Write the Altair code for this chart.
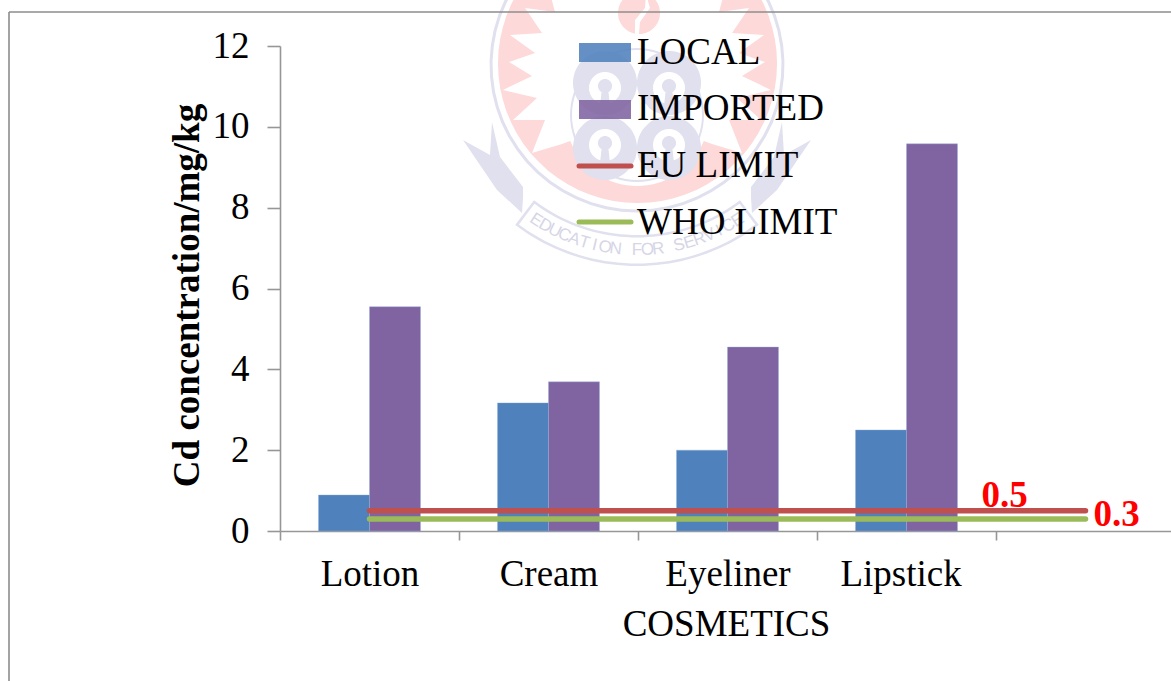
import math
import altair as alt
import pandas as pd

# Cadmium concentrations by cosmetic type
categories = ["Lotion", "Cream", "Eyeliner", "Lipstick", " "]
local_values = [0.89, 3.17, 2.0, 2.5]
imported_values = [5.55, 3.69, 4.55, 9.58]
eu_limit = [0.5, 0.5, 0.5, 0.5, 0.5]
who_limit = [0.3, 0.3, 0.3, 0.3, 0.3]
legend_labels = ["LOCAL", "IMPORTED", "EU LIMIT", "WHO LIMIT"]
motto = "EDUCATION FOR SERVICE"

BLUE, PURPLE, RED, GREEN = "#4F81BD", "#8064A2", "#C0504D", "#9BBB59"
SERIF = "Liberation Serif"
LEFT, TOP = 280, 46
GREY = "#969696"
PINK, LAV = "#FDD9D9", "#E0E0EE"
CX, CY = 637, 65

bars = pd.DataFrame(
    [{"cat": c, "series": "LOCAL", "v": v} for c, v in zip(categories, local_values)]
    + [{"cat": c, "series": "IMPORTED", "v": v} for c, v in zip(categories, imported_values)]
)
limits = pd.DataFrame({"cat": categories, "eu": eu_limit, "who": who_limit})

x_enc = alt.X(
    "cat:N",
    scale=alt.Scale(domain=categories, range=[0, 895], paddingInner=0, paddingOuter=0),
    sort=categories,
    axis=alt.Axis(
        title="COSMETICS",
        tickBand="extent",
        labelAngle=0,
        labelFont=SERIF,
        labelFontSize=37,
        labelColor="#000000",
        labelPadding=34,
        labelBaseline="middle",
        labelOffset={"expr": "datum.value == 'Lipstick' ? -6 : 0"},
        titleFont=SERIF,
        titleFontSize=37,
        titleFontWeight="normal",
        titleColor="#000000",
        titleX=446,
        titleY=93,
        titleBaseline="middle",
        tickSize=9,
        tickColor=GREY,
        tickWidth=1.6,
        domainColor=GREY,
        domainWidth=1.6,
        grid=False,
    ),
)
y_axis = alt.Axis(
    title="Cd concentration/mg/kg",
    values=[0, 2, 4, 6, 8, 10, 12],
    labelFont=SERIF,
    labelFontSize=37,
    labelColor="#000000",
    labelPadding=18,
    titleFont=SERIF,
    titleFontSize=37,
    titleFontWeight="bold",
    titleColor="#000000",
    titleX=-93,
    titleY=249,
    titleBaseline="middle",
    tickSize=13,
    tickColor=GREY,
    tickWidth=1.6,
    domainColor=GREY,
    domainWidth=1.6,
    grid=False,
)
y_scale = alt.Scale(domain=[0, 12], nice=False)


def y_enc(field):
    return alt.Y(field, scale=y_scale, axis=y_axis)


# Crest helpers: outlines are polylines in page pixels, shifted to the plot origin
def to_path(points):
    return "M" + "L".join(f"{x - LEFT:.1f},{y - TOP:.1f}" for x, y in points) + "Z"


def mirror(points):
    return [(2 * CX - x, y) for x, y in points]


def circle_pts(cx, cy, r, n=72):
    return [(cx + r * math.cos(2 * math.pi * i / n), cy + r * math.sin(2 * math.pi * i / n)) for i in range(n)]


def circle(cx, cy, r):
    return to_path(circle_pts(cx, cy, r))


def ring(cx, cy, r0, r1):
    # Outer and inner outlines wound in opposite directions leave the middle empty
    return to_path(circle_pts(cx, cy, r1)) + to_path(circle_pts(cx, cy, r0)[::-1])


def arc_pts(r, a0, a1, n=40):
    pts = []
    for i in range(n + 1):
        a = math.radians(a0 + (a1 - a0) * i / n)
        pts.append((CX + r * math.sin(a), CY + r * math.cos(a)))
    return pts


def band(r0, r1, a0, a1):
    return to_path(arc_pts(r1, a0, a1) + arc_pts(r0, a1, a0))


def crest(path, fill):
    return alt.Chart(pd.DataFrame({"k": [0]})).mark_point(
        shape=path, size=4, filled=True, opacity=1, fill=fill
    ).encode(x=alt.value(0), y=alt.value(0))


# White sunburst inside the pink disc: teeth down the left side, then round the emblem
teeth = [
    (548, -14), (555, 12), (525, 8), (542, 33), (510, 35), (535, 53), (509, 62),
    (532, 76), (503, 90), (537, 98), (513, 120), (545, 120), (532, 153), (562, 144),
]
emblem_arc = [
    (CX + 72 * math.sin(math.radians(a)), 114 + 72 * math.cos(math.radians(a)))
    for a in range(-68, 69, 4)
]
sunburst = teeth + emblem_arc + mirror(teeth)[::-1]

lobes = [(605, 83, 5), (669, 83, 5), (605, 148, -3), (669, 148, -3)]
lobe_path = "".join(circle(x, y, 32) for x, y, _ in lobes)
hole_path = "".join(circle(x, y + d, 16) for x, y, d in lobes)
key_path = "".join(
    circle(x, y + d - 2, 7) + to_path([(x - 3, y + d), (x + 3, y + d), (x + 5, y + d + 18), (x - 5, y + d + 18)])
    for x, y, d in lobes
)
wing = [(463, 140), (490, 155), (492, 122), (500, 157), (523, 187), (523, 197), (522, 213), (497, 190)]
wing_path = to_path(wing) + to_path(mirror(wing))
motto_box = (
    band(170, 172.5, -37, 37)
    + band(198.5, 201, -37, 37)
    + band(170, 201, 36.5, 37.3)
    + band(170, 201, -37.3, -36.5)
)

crest_layers = [
    crest(circle(637.5, 63.5, 139.5), PINK),
    crest(to_path(sunburst), "#FFFFFF"),
    crest(circle(639, 13, 21), PINK),
    crest(to_path([(646, -6), (650, 8), (640, 22), (639, 34), (635, 34), (635, 20), (645, 8)]), "#FFFFFF"),
    crest(band(144.5, 147.5, -122, 122), LAV),
    crest(ring(637, 115, 65, 67), LAV),
    crest(lobe_path, LAV),
    crest(circle(637, 115, 14), "#FFFFFF"),
    crest(hole_path, "#FFFFFF"),
    crest(key_path, LAV),
    crest(wing_path, LAV),
    crest(motto_box, LAV),
]

# Motto letters set along the lower arc of the crest
motto_layers = []
for i, ch in enumerate(motto):
    if ch == " ":
        continue
    a = -33 + 66 * i / (len(motto) - 1)
    rad = math.radians(a)
    motto_layers.append(
        alt.Chart(pd.DataFrame({"t": [ch]})).mark_text(
            font="Liberation Sans",
            fontSize=17,
            color="#D6D6E6",
            align="center",
            baseline="middle",
            angle=(-a) % 360,
        ).encode(
            x=alt.value(CX + 185 * math.sin(rad) - LEFT),
            y=alt.value(CY + 185 * math.cos(rad) - TOP),
            text="t:N",
        )
    )

# Outer frame on the left and top
one = pd.DataFrame({"k": [0]})
frame = [
    alt.Chart(one).mark_rule(color="#8C8C8C", strokeWidth=1.6).encode(
        x=alt.value(9 - LEFT), x2=alt.value(1171 - LEFT), y=alt.value(12 - TOP)
    ),
    alt.Chart(one).mark_rule(color="#8C8C8C", strokeWidth=1.6).encode(
        x=alt.value(9 - LEFT), y=alt.value(12 - TOP), y2=alt.value(681 - TOP)
    ),
]

bar_layer = alt.Chart(bars).mark_bar(stroke="#8FB0D8", strokeWidth=0.4).encode(
    x=x_enc,
    xOffset=alt.XOffset(
        "series:N",
        sort=["LOCAL", "IMPORTED"],
        scale=alt.Scale(paddingInner=0, paddingOuter=0.755),
    ),
    y=y_enc("v:Q"),
    color=alt.Color(
        "series:N", scale=alt.Scale(domain=["LOCAL", "IMPORTED"], range=[BLUE, PURPLE]), legend=None
    ),
)

eu_line = alt.Chart(limits).mark_line(color=RED, strokeWidth=5.5, strokeCap="round").encode(
    x=x_enc, y=y_enc("eu:Q")
)
who_line = alt.Chart(limits).mark_line(color=GREEN, strokeWidth=5.5, strokeCap="round").encode(
    x=x_enc, y=y_enc("who:Q")
)

# Value labels beside the limit lines
value_labels = alt.Chart(limits.tail(1)).transform_calculate(a="format(datum.eu,'.1f')", b="format(datum.who,'.1f')")
eu_label = value_labels.mark_text(
    font=SERIF, fontSize=37, fontWeight="bold", color="#FF0000", dx=-81, dy=-15
).encode(x=x_enc, y=y_enc("eu:Q"), text="a:N")
who_label = value_labels.mark_text(
    font=SERIF, fontSize=37, fontWeight="bold", color="#FF0000", dx=31, dy=-4
).encode(x=x_enc, y=y_enc("who:Q"), text="b:N")

# Hand-placed key: swatches and their labels sit inside the plot
key_local = alt.Chart(one).mark_rect(color=BLUE, opacity=0.88).encode(
    x=alt.value(579 - LEFT), x2=alt.value(631 - LEFT), y=alt.value(43 - TOP), y2=alt.value(62 - TOP)
)
key_imported = alt.Chart(one).mark_rect(color=PURPLE, opacity=0.88).encode(
    x=alt.value(579 - LEFT), x2=alt.value(631 - LEFT), y=alt.value(100 - TOP), y2=alt.value(119 - TOP)
)
key_eu = alt.Chart(one).mark_rule(color=RED, strokeWidth=5, strokeCap="round").encode(
    x=alt.value(579 - LEFT), x2=alt.value(631 - LEFT), y=alt.value(166 - TOP)
)
key_who = alt.Chart(one).mark_rule(color=GREEN, strokeWidth=5, strokeCap="round").encode(
    x=alt.value(579 - LEFT), x2=alt.value(631 - LEFT), y=alt.value(222 - TOP)
)
key_rows = [53, 109, 166, 223]
key_text = [
    alt.Chart(pd.DataFrame({"t": [label]})).mark_text(
        font=SERIF, fontSize=37, color="#000000", align="left", baseline="middle"
    ).encode(x=alt.value(637 - LEFT), y=alt.value(row - TOP), text="t:N")
    for label, row in zip(legend_labels, key_rows)
]

chart = (
    alt.layer(
        *crest_layers,
        *motto_layers,
        *frame,
        bar_layer,
        eu_line,
        who_line,
        eu_label,
        who_label,
        key_local,
        key_imported,
        key_eu,
        key_who,
        *key_text,
    )
    .properties(
        width=891,
        height=485,
        padding={"left": LEFT, "top": TOP, "right": 0, "bottom": 150},
        autosize=alt.AutoSizeParams(type="none"),
        background="#FFFFFF",
    )
    .configure_view(stroke=None)
)

chart.save("out.html", embed_options={"renderer": "svg", "actions": False})
